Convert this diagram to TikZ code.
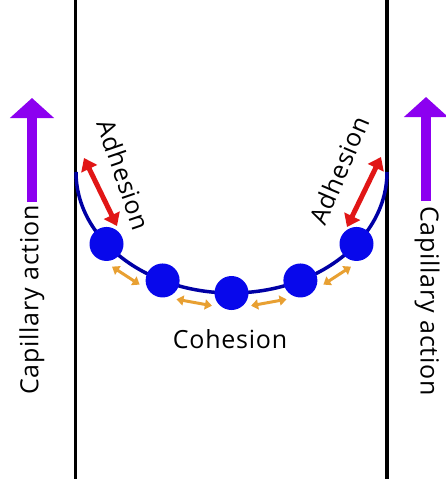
\documentclass[tikz,border=0pt]{standalone}
\usepackage{fontspec}
\setmainfont[LetterSpace=3]{Open Sans}
\usetikzlibrary{positioning}
\usetikzlibrary{calc}
\usetikzlibrary{arrows.meta}

\definecolor{moleculeblue}{RGB}{8,8,235}
\definecolor{meniscusblue}{RGB}{0,0,165}
\definecolor{adhesionred}{RGB}{225,22,22}
\definecolor{cohesionorange}{RGB}{232,160,50}
\definecolor{risepurple}{RGB}{140,0,240}

\tikzset{
    wall/.style      = {line width=3.5pt, black},
    meniscus/.style  = {line width=3.5pt, meniscusblue},
    molecule/.style  = {circle, fill=moleculeblue, minimum size=34pt, inner sep=0pt},
    adhesion/.style  = {line width=5pt, adhesionred,
                        {Triangle[width=17pt,length=12pt]}-{Triangle[width=17pt,length=12pt]}},
    cohesion/.style  = {line width=3pt, cohesionorange,
                        {Triangle[width=10pt,length=7pt]}-{Triangle[width=10pt,length=7pt]}},
    rise/.style      = {line width=10pt, risepurple, -{Triangle[width=43pt,length=20pt]}},
}

\begin{document}
\begin{tikzpicture}[x=1pt, y=-1pt, font=\fontsize{25pt}{30pt}\selectfont]
    \useasboundingbox (0,0) rectangle (445,479);

    % tube walls
    \draw[wall] (75.5,0) -- (75.5,479);
    \draw[wall] (387,0) -- (387,479);

    % meniscus and the molecules sitting on it
    \coordinate (c) at (231.5,172);
    \draw[meniscus] (c) ++(180:155.5 and 121) arc[start angle=180, end angle=0, x radius=155.5, y radius=121];
    \node[molecule] (m1) at ($(c) + (143.5:155.5 and 121)$) {};
    \node[molecule] (m2) at ($(c) + (116.3:155.5 and 121)$) {};
    \node[molecule] (m3) at ($(c) + ( 90.0:155.5 and 121)$) {};
    \node[molecule] (m4) at ($(c) + ( 63.7:155.5 and 121)$) {};
    \node[molecule] (m5) at ($(c) + ( 36.5:155.5 and 121)$) {};

    % cohesion between neighbours
    \foreach \a/\b in {m1/m2, m2/m3, m3/m4, m4/m5}
        \draw[cohesion] ($(\a)!17pt!(\b)!16pt!-90:(\b)$) -- ($(\b)!17pt!(\a)!16pt!90:(\a)$);
    \node (cohesion) at (230,339) {Cohesion};

    % adhesion to the walls
    \coordinate (adh-l-top) at (84,158);
    \coordinate (adh-l-bot) at (117,226);
    \coordinate (adh-r-top) at (381,157);
    \coordinate (adh-r-bot) at (347,227);
    \draw[adhesion] (adh-l-top) -- (adh-l-bot);
    \draw[adhesion] (adh-r-top) -- (adh-r-bot);
    \node[rotate=-71] (adh-l) at (124,175) {Adhesion};
    \node[rotate=67]  (adh-r) at (339,170) {Adhesion};

    % capillary rise outside the tube
    \coordinate (rise-l-bot) at (32,202);
    \coordinate (rise-l-top) at (32,98);
    \coordinate (rise-r-bot) at (426,201);
    \coordinate (rise-r-top) at (426,97);
    \draw[rise] (rise-l-bot) -- (rise-l-top);
    \draw[rise] (rise-r-bot) -- (rise-r-top);
    \node[rotate=90]  (cap-l) at (32,300)  {Capillary action};
    \node[rotate=-90] (cap-r) at (427,301) {Capillary action};
\end{tikzpicture}
\end{document}
